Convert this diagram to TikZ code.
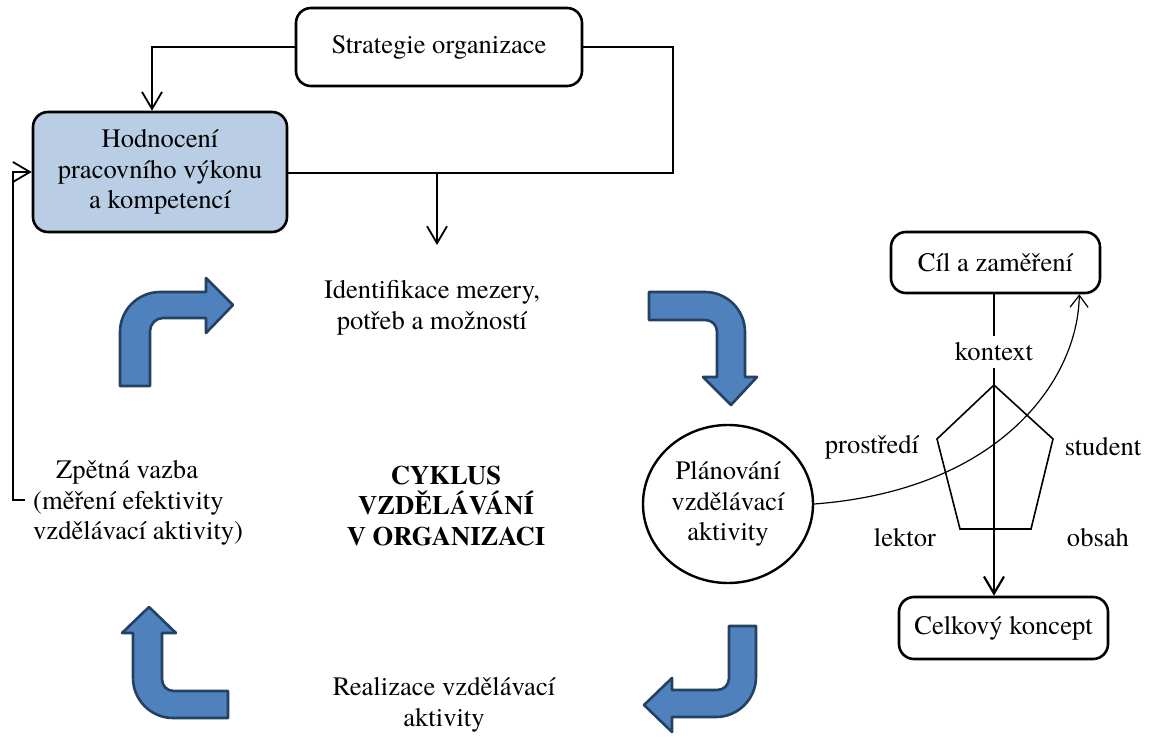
\documentclass[tikz,border=0pt]{standalone}
\usepackage{fontspec}
\setmainfont{texgyretermes}[Extension=.otf, UprightFont=*-regular, BoldFont=*-bold, ItalicFont=*-italic, BoldItalicFont=*-bolditalic]
\usetikzlibrary{arrows.meta,shapes.geometric}
\definecolor{hodfill}{RGB}{185,205,229}
\definecolor{arrfill}{RGB}{79,129,189}
\definecolor{arrline}{RGB}{36,64,98}
\newcommand{\myfs}{\fontsize{26.6}{30.6}\selectfont}
\begin{document}
\begin{tikzpicture}[x=1pt,y=-1pt,
  every node/.style={font=\myfs},
  box/.style={draw, line width=2.6pt, rounded corners=15pt, inner sep=0pt, align=center},
  conn/.style={line width=1.8pt},
  arr/.style={conn, -{Straight Barb[length=17pt,width=20pt]}},
  bluearrow/.style={fill=arrfill, draw=arrline, line width=2.6pt, line join=round},
  txt/.style={align=center, inner sep=0pt}]
\useasboundingbox (0,0) rectangle (1152,738);

% top boxes
\node[box, minimum width=286pt, minimum height=78pt] (strat) at (439,47) {Strategie organizace};
\node[box, fill=hodfill, minimum width=254pt, minimum height=120pt] (hod) at (160,172) {Hodnocení\\pracovního výkonu\\a kompetencí};
\draw[arr] (strat.west) -| ([xshift=-8pt]hod.north);
\coordinate (rc) at (673,173);
\draw[conn, line width=1.4pt] (strat.east) -| (rc) -- (hod.east |- rc);
\coordinate (dtop) at (437,173);
\coordinate (dbot) at (437,245);
\draw[arr] (dtop) -- (dbot);
\coordinate (fb) at (25,500);
\draw[arr] (fb) -- ++(-12,0) |- (hod.west);

% blue bent arrows
\draw[bluearrow] (120,386) -- (120,332) .. controls (120,310) and (138,292) .. (160,292) -- (206,292) -- (206,278) -- (233,305) -- (206,333) -- (206,318) -- (163,318) .. controls (156,318) and (150,324) .. (150,331) -- (150,386) -- cycle;
\draw[bluearrow] (649,292) -- (705,292) .. controls (727,292) and (745,310) .. (745,332) -- (745,377) -- (757,377) -- (731,405) -- (703,377) -- (717,377) -- (717,332) .. controls (717,325) and (712,320) .. (705,320) -- (649,320) -- cycle;
\draw[bluearrow] (228,691) -- (174,691) .. controls (167,691) and (162,686) .. (162,679) -- (162,633) -- (176,633) -- (149,607) -- (122,633) -- (133,633) -- (133,678) .. controls (133,700) and (151,718) .. (173,718) -- (228,718) -- cycle;
\draw[bluearrow] (729,626) -- (756,626) -- (756,677) .. controls (756,699) and (738,717) .. (716,717) -- (672,717) -- (672,732) -- (644,705) -- (672,678) -- (672,690) -- (717,690) .. controls (724,690) and (729,685) .. (729,678) -- cycle;

% texts of the cycle
\node[txt] (ident) at (432,308) {Identifikace mezery,\\potřeb a možností};
\node[txt, align=left, anchor=west] (zpet) at (33,503) {\hspace*{23pt}Zpětná vazba\\(měření efektivity\\vzdělávací aktivity)};
\node[txt, font=\myfs\bfseries] (cyk) at (446,506) {CYKLUS\\VZDĚLÁVÁNÍ\\V ORGANIZACI};
\node[txt] (real) at (444,705) {Realizace vzdělávací\\aktivity};
\node[draw, ellipse, line width=2.4pt, minimum width=170pt, minimum height=158pt, inner sep=0pt, align=center] (plan) at (728,504) {Plánování\\vzdělávací\\aktivity};

% right part
\node[box, minimum width=209pt, minimum height=61pt] (cil) at (995.5,262.5) {Cíl a zaměření};
\node[box, minimum width=209pt, minimum height=62pt] (celk) at (1003.5,628) {Celkový koncept};
\node[txt] (kon) at (994,352) {kontext};
\node[txt] (pros) at (872,447) {prostředí};
\node[txt] (stud) at (1103,447) {student};
\node[txt] (lek) at (905,538) {lektor};
\node[txt] (obs) at (1098,538) {obsah};
\draw[line width=1.6pt, line join=miter] (994,385) -- (1053,439) -- (1031,529) -- (960,529) -- (937,439) -- cycle;
\draw[line width=1.6pt] (cil.south -| kon) -- ++(0,42);
\coordinate (k2) at (994,368);
\draw[line width=2.2pt, -{Straight Barb[length=17pt,width=20pt]}] (k2) -- (celk.north -| k2);
\draw[line width=1.2pt, -{Straight Barb[length=12pt,width=18pt]}] (plan.east) .. controls (1000,490) and (1078,380) .. ([xshift=-22pt]cil.south east);
\end{tikzpicture}
\end{document}
